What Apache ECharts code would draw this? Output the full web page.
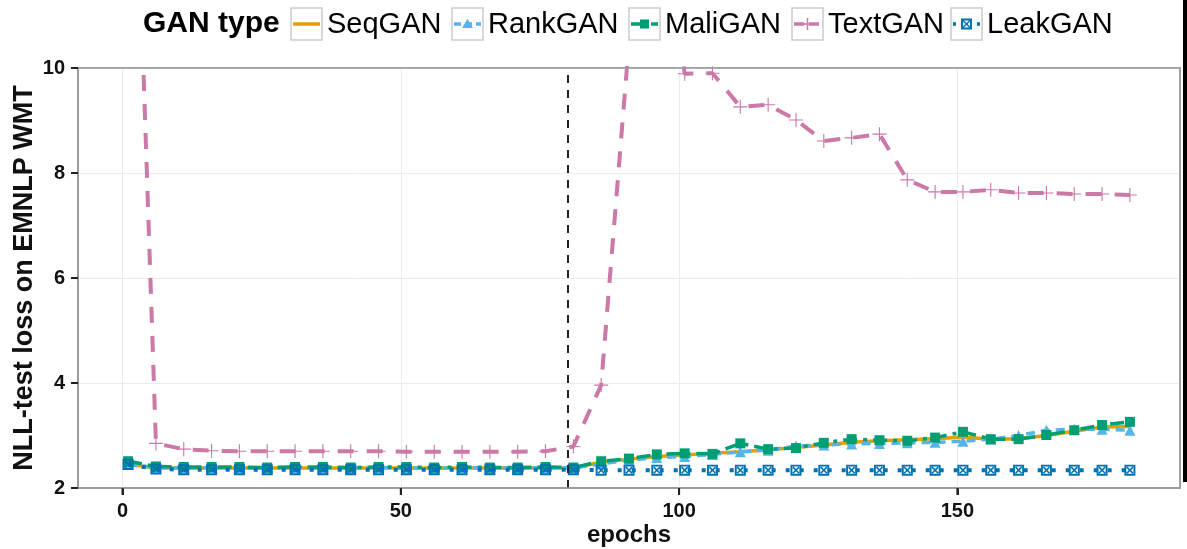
<!DOCTYPE html>
<html>
<head>
<meta charset="utf-8">
<script src="https://cdn.jsdelivr.net/npm/echarts@6/dist/echarts.min.js"></script>
<style>
html,body{margin:0;padding:0;background:#fff;}
#chart{width:1187px;height:549px;}
</style>
</head>
<body>
<div id="chart"></div>
<script>
// ---------- data ----------
const epochs = [1, 6, 11, 16, 21, 26, 31, 36, 41, 46, 51, 56, 61, 66, 71, 76, 81,
  86, 91, 96, 101, 106, 111, 116, 121, 126, 131, 136, 141, 146, 151, 156, 161, 166, 171, 176, 181];

const seqGAN = [2.45, 2.38, 2.38, 2.38, 2.38, 2.38, 2.38, 2.38, 2.38, 2.38, 2.38, 2.38, 2.38, 2.38, 2.38, 2.38, 2.38,
  2.49, 2.55, 2.60, 2.63, 2.66, 2.69, 2.73, 2.77, 2.82, 2.87, 2.90, 2.92, 2.94, 2.97, 2.93, 2.94, 3.00, 3.08, 3.16, 3.17];

const rankGAN = [2.45, 2.39, 2.38, 2.39, 2.38, 2.38, 2.39, 2.38, 2.38, 2.39, 2.38, 2.38, 2.39, 2.38, 2.38, 2.39, 2.38,
  2.46, 2.53, 2.58, 2.60, 2.64, 2.69, 2.72, 2.80, 2.82, 2.84, 2.85, 2.86, 2.87, 2.89, 2.93, 3.00, 3.10, 3.12, 3.12, 3.10];

const maliGAN = [2.51, 2.41, 2.40, 2.40, 2.40, 2.39, 2.40, 2.40, 2.39, 2.40, 2.40, 2.39, 2.40, 2.39, 2.39, 2.40, 2.39,
  2.51, 2.56, 2.64, 2.66, 2.65, 2.85, 2.74, 2.76, 2.86, 2.93, 2.91, 2.90, 2.96, 3.07, 2.93, 2.93, 3.01, 3.10, 3.20, 3.26];

const textGAN = [18.7, 2.85, 2.74, 2.71, 2.70, 2.70, 2.70, 2.70, 2.70, 2.70, 2.69, 2.69, 2.69, 2.69, 2.69, 2.70, 2.79,
  3.96, 10.5, 14.0, 9.89, 9.90, 9.26, 9.30, 9.01, 8.61, 8.67, 8.74, 7.87, 7.64, 7.64, 7.68, 7.62, 7.62, 7.60, 7.60, 7.58];

const leakGAN = [2.45, 2.36, 2.35, 2.35, 2.35, 2.35, 2.35, 2.35, 2.35, 2.35, 2.35, 2.35, 2.35, 2.35, 2.35, 2.35, 2.35,
  2.34, 2.34, 2.34, 2.34, 2.34, 2.34, 2.34, 2.34, 2.34, 2.34, 2.34, 2.34, 2.34, 2.34, 2.34, 2.34, 2.34, 2.34, 2.34, 2.34];

const seriesNames = ['SeqGAN', 'RankGAN', 'MaliGAN', 'TextGAN', 'LeakGAN'];
const xTickValues = [0, 50, 100, 150];
const yTickValues = [2, 4, 6, 8, 10];
const dividerEpoch = 80;
const legendTitle = 'GAN type';
const xAxisTitle = 'epochs';
const yAxisTitle = 'NLL-test loss on EMNLP WMT';

// ---------- styles ----------
const colors = ['#E69F00', '#56B4E9', '#009E73', '#CC79A7', '#0072B2'];
const FONT = 'Liberation Sans, Arial, Helvetica, sans-serif';
const plusPath = 'path://M9.2,0 L10.8,0 L10.8,9.2 L20,9.2 L20,10.8 L10.8,10.8 L10.8,20 L9.2,20 L9.2,10.8 L0,10.8 L0,9.2 L9.2,9.2 Z';
const leakPath = 'path://M0,0 L20,0 L20,20 L0,20 Z M3.5,3.5 L3.5,16.5 L16.5,16.5 L16.5,3.5 Z ' +
  'M3.5,5.5 L5.5,3.5 L16.5,14.5 L14.5,16.5 Z M14.5,3.5 L16.5,5.5 L5.5,16.5 L3.5,14.5 Z';

function pairs(vals) { return epochs.map((e, i) => [e, vals[i]]); }

const chart = echarts.init(document.getElementById('chart'), null, {renderer: 'canvas'});

const lineCommon = {type: 'line', animation: false, clip: true, emphasis: {disabled: true}};

const series = [
  Object.assign({}, lineCommon, {
    name: 'SeqGAN', data: pairs(seqGAN), symbol: 'none', z: 2,
    lineStyle: {color: colors[0], width: 3.5, type: 'solid'}, itemStyle: {color: colors[0]}
  }),
  Object.assign({}, lineCommon, {
    name: 'RankGAN', data: pairs(rankGAN), symbol: 'triangle', symbolSize: 11, z: 3,
    lineStyle: {color: colors[1], width: 3.5, type: [9, 6]}, itemStyle: {color: colors[1]}
  }),
  Object.assign({}, lineCommon, {
    name: 'MaliGAN', data: pairs(maliGAN), symbol: 'rect', symbolSize: 10, z: 4,
    lineStyle: {color: colors[2], width: 3.5, type: [14, 6, 4, 6]}, itemStyle: {color: colors[2]}
  }),
  Object.assign({}, lineCommon, {
    name: 'TextGAN', data: pairs(textGAN), symbol: plusPath, symbolSize: 14, z: 5,
    lineStyle: {color: colors[3], width: 4, type: [16, 13]}, itemStyle: {color: colors[3]}
  }),
  Object.assign({}, lineCommon, {
    name: 'LeakGAN', data: pairs(leakGAN), symbol: leakPath, symbolSize: 11, z: 6,
    lineStyle: {color: colors[4], width: 4, type: [4, 10]}, itemStyle: {color: colors[4]}
  }),
  // vertical grid lines at the x ticks
  Object.assign({}, lineCommon, {
    name: '_grid', data: [], silent: true, z: 1,
    markLine: {
      silent: true, symbol: 'none', z: 1, animation: false,
      label: {show: false},
      lineStyle: {color: '#ebebeb', width: 1, type: 'solid'},
      data: xTickValues.map(v => ({xAxis: v}))
    }
  }),
  // dashed divider
  Object.assign({}, lineCommon, {
    name: '_divider', data: [], silent: true, z: 10,
    markLine: {
      silent: true, symbol: 'none', z: 10, animation: false,
      label: {show: false},
      lineStyle: {color: '#222', width: 2, type: [8, 7]},
      data: [{xAxis: dividerEpoch}]
    }
  })
];

// legend: one component per entry so each sits at its key box
const boxX = [291, 452, 629, 792, 951];
const legends = seriesNames.map((n, i) => ({
  data: [n], left: boxX[i], top: 9, padding: 0, itemGap: 0,
  itemWidth: 31, itemHeight: 32, icon: 'rect',
  itemStyle: {color: 'rgba(0,0,0,0)', borderWidth: 0, opacity: 0},
  textStyle: {fontSize: 29, color: '#000', fontFamily: FONT},
  selectedMode: false
}));

// legend key drawings
const keyGraphics = [];
const keyDash = ['solid', [7, 4], [9, 4, 3, 4], [10, 5], [3, 5]];
boxX.forEach((bx, i) => {
  const cx = bx + 15.5, cy = 24;
  const kids = [
    {type: 'rect', shape: {x: bx, y: 8, width: 31, height: 32},
      style: {fill: '#fff', stroke: '#cccccc', lineWidth: 1.5}},
    {type: 'line', shape: {x1: bx + 2, y1: cy, x2: bx + 29, y2: cy},
      style: {stroke: colors[i], lineWidth: 3.5, lineDash: keyDash[i] === 'solid' ? null : keyDash[i]}}
  ];
  if (i === 1) kids.push({type: 'polygon', shape: {points: [[cx, cy - 5], [cx + 5.5, cy + 4], [cx - 5.5, cy + 4]]}, style: {fill: colors[i]}});
  if (i === 2) kids.push({type: 'rect', shape: {x: cx - 4.5, y: cy - 4.5, width: 9, height: 9}, style: {fill: colors[i]}});
  if (i === 3) {
    kids.push({type: 'line', shape: {x1: cx - 6, y1: cy, x2: cx + 6, y2: cy}, style: {stroke: colors[i], lineWidth: 1.5}});
    kids.push({type: 'line', shape: {x1: cx, y1: cy - 6, x2: cx, y2: cy + 6}, style: {stroke: colors[i], lineWidth: 1.5}});
  }
  if (i === 4) {
    kids.push({type: 'rect', shape: {x: cx - 4.5, y: cy - 4.5, width: 9, height: 9}, style: {fill: '#fff', stroke: colors[i], lineWidth: 2}});
    kids.push({type: 'line', shape: {x1: cx - 4, y1: cy - 4, x2: cx + 4, y2: cy + 4}, style: {stroke: colors[i], lineWidth: 1.5}});
    kids.push({type: 'line', shape: {x1: cx + 4, y1: cy - 4, x2: cx - 4, y2: cy + 4}, style: {stroke: colors[i], lineWidth: 1.5}});
  }
  keyGraphics.push({type: 'group', silent: true, children: kids});
});

const baseGraphics = [
  {type: 'text', x: 143, y: 24, silent: true,
    style: {text: legendTitle, font: 'bold 30px ' + FONT, fill: '#000', verticalAlign: 'middle'}},
  {type: 'rect', silent: true, z: 100, shape: {x: 78, y: 68, width: 1102, height: 420},
    style: {fill: 'none', stroke: '#9a9a9a', lineWidth: 1.5}},
  {type: 'rect', silent: true, shape: {x: 1183, y: 0, width: 4, height: 482}, style: {fill: '#000'}}
].concat(keyGraphics);

const option = {
  animation: false,
  backgroundColor: '#ffffff',
  textStyle: {fontFamily: FONT},
  grid: {left: 78, right: 7, top: 68, bottom: 61, show: true, borderColor: '#9a9a9a', borderWidth: 1.5,
    backgroundColor: 'transparent', containLabel: false, outerBoundsMode: 'none'},
  legend: legends,
  xAxis: {
    type: 'value', min: -8, max: 190,
    axisLine: {show: true, onZero: false, lineStyle: {color: '#9a9a9a', width: 1.5}},
    axisTick: {show: true, inside: false, customValues: xTickValues, length: 7, lineStyle: {color: '#222', width: 2}},
    axisLabel: {customValues: xTickValues, fontSize: 20, fontWeight: 'bold', color: '#111', margin: 13, fontFamily: FONT},
    splitLine: {show: false},
    name: xAxisTitle, nameLocation: 'middle', nameGap: 35, nameMoveOverlap: false,
    nameTextStyle: {fontSize: 24, fontWeight: 'bold', color: '#111', fontFamily: FONT}
  },
  yAxis: {
    type: 'value', min: 2, max: 10, interval: 2,
    axisLine: {show: true, onZero: false, lineStyle: {color: '#9a9a9a', width: 1.5}},
    axisTick: {show: true, inside: false, length: 7, lineStyle: {color: '#222', width: 2}},
    axisLabel: {fontSize: 20, fontWeight: 'bold', color: '#111', margin: 13, fontFamily: FONT},
    splitLine: {show: true, lineStyle: {color: '#ebebeb', width: 1}},
    name: yAxisTitle, nameLocation: 'middle', nameGap: 40, nameRotate: 90, nameMoveOverlap: false,
    nameTextStyle: {fontSize: 27, fontWeight: 'bold', color: '#111', fontFamily: FONT}
  },
  graphic: baseGraphics,
  series: series
};

chart.setOption(option);

// outside tick marks, placed through the axes' own scales
const tickGraphics = [];
yTickValues.forEach(v => {
  const p = chart.convertToPixel({gridIndex: 0}, [-8, v]);
  tickGraphics.push({type: 'line', silent: true, z: 101,
    shape: {x1: p[0] - 7, y1: p[1], x2: p[0], y2: p[1]}, style: {stroke: '#222', lineWidth: 2}});
});
xTickValues.forEach(v => {
  const p = chart.convertToPixel({gridIndex: 0}, [v, 2]);
  tickGraphics.push({type: 'line', silent: true, z: 101,
    shape: {x1: p[0], y1: p[1], x2: p[0], y2: p[1] + 7}, style: {stroke: '#222', lineWidth: 2}});
});
chart.setOption({graphic: baseGraphics.concat(tickGraphics)});
</script>
</body>
</html>
